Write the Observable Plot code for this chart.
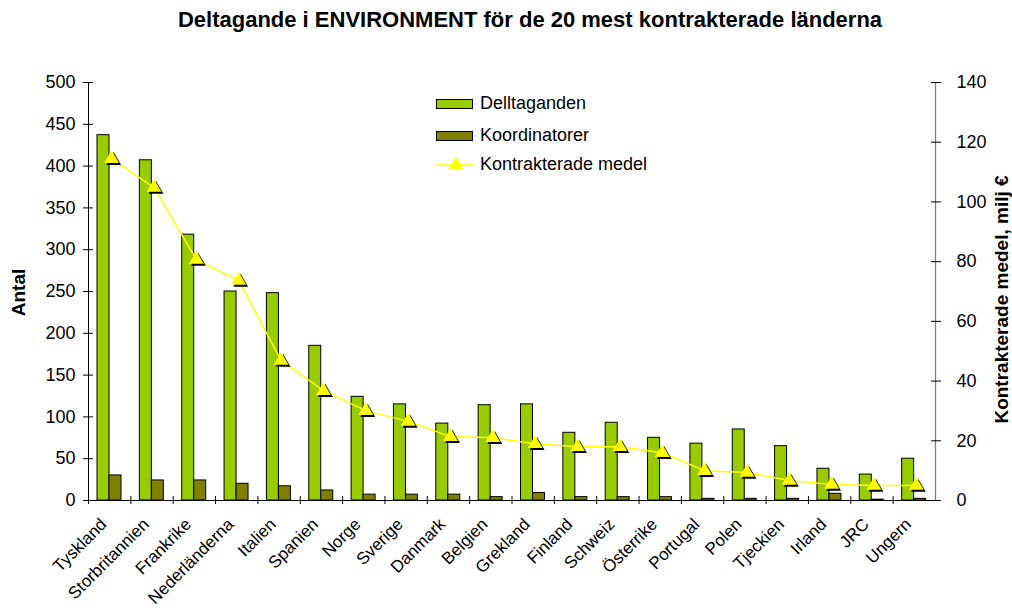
<!DOCTYPE html>
<html>
<head>
<meta charset="utf-8">
<script src="https://cdn.jsdelivr.net/npm/d3@7"></script>
<script src="https://cdn.jsdelivr.net/npm/@observablehq/plot@0.6"></script>
<style>
  body { margin: 0; background: #fff; font-family: "Liberation Sans", Arial, sans-serif; }
  #wrap { position: relative; width: 1012px; height: 612px; }
  #legend { position: absolute; left: 436px; top: 94px; font-size: 18px; color: #000; }
  .item { position: absolute; left: 0; height: 20px; white-space: nowrap; }
  .item span { position: absolute; left: 44px; top: -1px; line-height: 20px; }
  .sw { position: absolute; left: 0; top: 5px; width: 35px; height: 8px; border: 1px solid #000; }
</style>
</head>
<body>
<div id="wrap">
  <div id="chart"></div>
  <div id="legend"></div>
</div>
<script>
const title = "Deltagande i ENVIRONMENT för de 20 mest kontrakterade länderna";
const categories = ["Tyskland","Storbritannien","Frankrike","Nederländerna","Italien","Spanien","Norge","Sverige","Danmark","Belgien","Grekland","Finland","Schweiz","Österrike","Portugal","Polen","Tjeckien","Irland","JRC","Ungern"];
const deltaganden = [437, 407, 318, 250, 248, 185, 124, 115, 92, 114, 115, 81, 93, 75, 68, 85, 65, 38, 31, 50];
const koordinatorer = [30, 24, 24, 20, 17, 12, 7, 7, 7, 4, 9, 4, 4, 4, 2, 2, 2, 8, 1, 2];
const medel = [114.5, 104.8, 80.7, 73.7, 46.9, 36.8, 30.1, 26.5, 21.4, 21, 19, 18, 18, 16, 10, 9.4, 6.7, 5.4, 5, 5];
const leftTicks = [0, 50, 100, 150, 200, 250, 300, 350, 400, 450, 500];
const rightTicks = [0, 20, 40, 60, 80, 100, 120, 140];
const seriesNames = ["Delltaganden", "Koordinatorer", "Kontrakterade medel"];
const colors = ["#99CC00", "#808000", "#FFFF00"];
const leftMax = 500, rightMax = 140;
const yLabel = "Antal", y2Label = "Kontrakterade medel, milj €";

const rows = categories.map((c, i) => ({land: c, d: deltaganden[i], k: koordinatorer[i], m: medel[i]}));
const toLeft = v => v * leftMax / rightMax;

const W = 1012, H = 612, mL = 88, mR = 77, mT = 82, mB = 112;
const bw = (W - mL - mR) / categories.length;
const first = categories[0], last = categories[categories.length - 1];

const chart = Plot.plot({
  width: W, height: H,
  marginLeft: mL, marginRight: mR, marginTop: mT, marginBottom: mB,
  style: {fontFamily: "'Liberation Sans', Arial, sans-serif", fontSize: "18px", color: "#000", background: "#fff"},
  x: {domain: categories, padding: 0, round: false, axis: null},
  y: {domain: [0, leftMax], axis: null},
  marks: [
    Plot.barY(rows, {x: "land", y: "d", fill: colors[0], stroke: "#000", strokeWidth: 1, insetLeft: 9, insetRight: bw - 21}),
    Plot.barY(rows, {x: "land", y: "k", fill: colors[1], stroke: "#000", strokeWidth: 1, insetLeft: 21, insetRight: bw - 33}),
    Plot.line(rows, {x: "land", y: d => toLeft(d.m), stroke: colors[2], strokeWidth: 1.5, dx: 2}),
    Plot.dot(rows, {x: "land", y: d => toLeft(d.m), symbol: "triangle", r: 5.5, fill: "#000", dx: 4, dy: 2}),
    Plot.dot(rows, {x: "land", y: d => toLeft(d.m), symbol: "triangle", r: 5.5, fill: colors[2], dx: 2}),
    // axis lines
    Plot.ruleY([0], {stroke: "#000"}),
    Plot.ruleX([first], {dx: -bw / 2, stroke: "#000", strokeWidth: 1}),
    Plot.ruleX([last], {dx: bw / 2, stroke: "#808080", strokeWidth: 1.3}),
    // x ticks at band boundaries
    Plot.axisX({tickSize: 8, dy: -4, dx: -bw / 2, tickFormat: () => "", stroke: "#000", label: null}),
    Plot.axisX({tickSize: 0, tickPadding: 21, tickRotate: -45, dx: -6, fontSize: 17, label: null}),
    // left axis
    Plot.axisY({ticks: leftTicks, anchor: "left", tickSize: 10, dx: 5, tickFormat: () => "", label: null}),
    Plot.axisY({ticks: leftTicks, anchor: "left", tickSize: 0, tickPadding: 13, fontSize: 18, label: null}),
    // right axis
    Plot.axisY({ticks: rightTicks.map(toLeft), anchor: "right", tickSize: 10, dx: -5, tickFormat: () => "", stroke: "#000", label: null}),
    Plot.axisY({ticks: rightTicks.map(toLeft), anchor: "right", tickSize: 0, tickPadding: 21, fontSize: 18, tickFormat: v => Math.round(v * rightMax / leftMax), label: null}),
    // labels
    Plot.text([title], {frameAnchor: "top", lineAnchor: "middle", dx: 18, dy: -63, fontWeight: "bold", fontSize: 22}),
    Plot.text([yLabel], {frameAnchor: "left", textAnchor: "middle", dx: -70, dy: 1, rotate: -90, fontWeight: "bold", fontSize: 19}),
    Plot.text([y2Label], {frameAnchor: "right", textAnchor: "middle", dx: 66, dy: 8, rotate: -90, fontWeight: "bold", fontSize: 19})
  ]
});
document.getElementById("chart").appendChild(chart);

// legend
const legend = document.getElementById("legend");
const tops = [0, 32, 61];
seriesNames.forEach((name, i) => {
  const it = document.createElement("div");
  it.className = "item";
  it.style.top = tops[i] + "px";
  if (i < 2) {
    const sw = document.createElement("div");
    sw.className = "sw";
    sw.style.background = colors[i];
    it.appendChild(sw);
  } else {
    const ns = "http://www.w3.org/2000/svg";
    const svg = document.createElementNS(ns, "svg");
    svg.setAttribute("width", 40); svg.setAttribute("height", 20);
    svg.style.position = "absolute"; svg.style.left = "0"; svg.style.top = "0";
    const ln = document.createElementNS(ns, "line");
    ln.setAttribute("x1", 0); ln.setAttribute("x2", 38); ln.setAttribute("y1", 10); ln.setAttribute("y2", 10);
    ln.setAttribute("stroke", colors[2]); ln.setAttribute("stroke-width", 1.5);
    const tri = document.createElementNS(ns, "path");
    tri.setAttribute("d", d3.symbol(d3.symbolTriangle, Math.PI * 5.5 * 5.5)());
    tri.setAttribute("transform", "translate(20,10)");
    tri.setAttribute("fill", colors[2]);
    svg.appendChild(ln); svg.appendChild(tri);
    it.appendChild(svg);
  }
  const sp = document.createElement("span");
  sp.textContent = name;
  it.appendChild(sp);
  legend.appendChild(it);
});
</script>
</body>
</html>
